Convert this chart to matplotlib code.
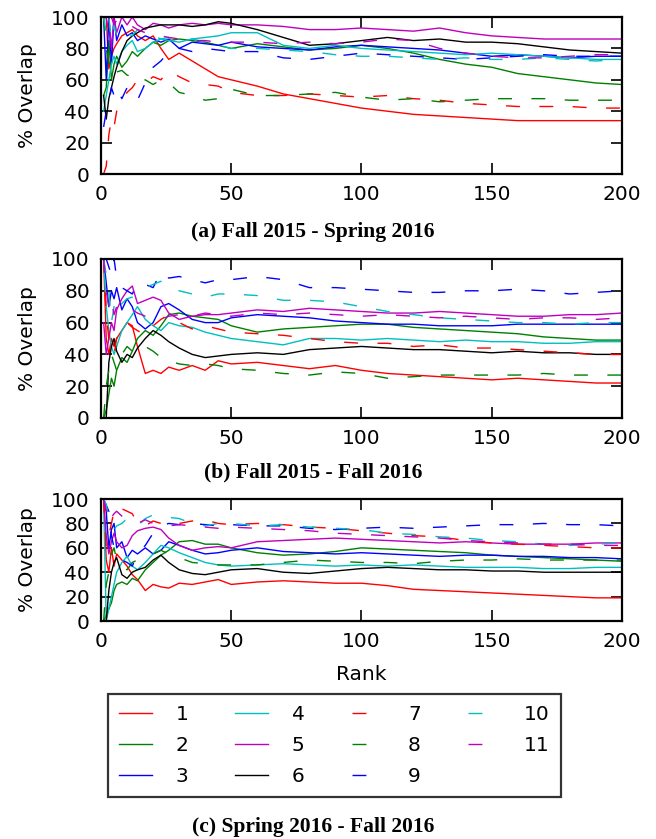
import matplotlib
matplotlib.use("Agg")
import matplotlib.pyplot as plt

ranks = [1, 2, 3, 4, 5, 6, 8, 10, 12, 14, 17, 20, 23, 26, 30, 35, 40, 45, 50,
         60, 70, 80, 90, 100, 110, 120, 130, 140, 150, 160, 170, 180, 190, 200]

labels = ["1", "2", "3", "4", "5", "6", "7", "8", "9", "10", "11"]
colors = ["r", "g", "b", "c", "m", "k", "r", "g", "b", "c", "m"]
styles = ["-"] * 6 + ["--"] * 5

# (a) Fall 2015 - Spring 2016
a1 = [100, 100, 67, 75, 80, 83, 88, 90, 92, 88, 85, 88, 80, 73, 77, 72, 67, 62, 60,
      56, 51, 48, 45, 42, 40, 38, 37, 36, 35, 34, 34, 34, 34, 34]
a2 = [50, 55, 85, 60, 70, 75, 68, 72, 78, 75, 80, 84, 82, 85, 86, 85, 84, 82, 80,
      83, 81, 79, 80, 82, 80, 77, 73, 70, 68, 64, 62, 60, 58, 57]
a3 = [100, 60, 100, 70, 100, 85, 95, 88, 90, 85, 88, 86, 84, 86, 80, 84, 83, 82, 84,
      81, 80, 79, 81, 82, 81, 80, 79, 77, 75, 76, 75, 74, 75, 75]
a4 = [40, 50, 60, 70, 75, 70, 78, 82, 85, 78, 80, 84, 86, 85, 84, 86, 87, 88, 90,
      90, 82, 80, 82, 80, 79, 78, 77, 76, 77, 76, 75, 74, 73, 73]
a5 = [100, 100, 100, 80, 100, 90, 100, 95, 100, 95, 92, 96, 95, 93, 95, 96, 95, 96, 95,
      95, 94, 92, 92, 93, 92, 91, 93, 90, 88, 87, 86, 86, 86, 86]
a6 = [50, 35, 48, 55, 62, 68, 78, 85, 88, 90, 93, 94, 95, 95, 95, 94, 95, 97, 96,
      92, 87, 82, 83, 85, 87, 85, 86, 84, 84, 83, 81, 79, 78, 77]
a7 = [0, 5, 25, 35, 30, 40, 45, 52, 55, 60, 58, 62, 60, 66, 62, 58, 57, 56, 52,
      50, 50, 51, 50, 49, 50, 48, 47, 45, 44, 43, 43, 43, 42, 42]
a8 = [100, 80, 70, 65, 62, 65, 66, 63, 62, 58, 60, 57, 60, 58, 52, 50, 47, 48, 54,
      50, 50, 51, 52, 49, 47, 48, 46, 47, 48, 48, 48, 47, 47, 47]
a9 = [30, 40, 45, 55, 50, 55, 48, 55, 50, 47, 58, 68, 72, 78, 80, 78, 80, 79, 78,
      78, 74, 73, 75, 77, 76, 75, 74, 73, 74, 75, 76, 75, 75, 75]
a10 = [100, 90, 100, 85, 95, 88, 92, 90, 88, 92, 90, 88, 86, 87, 85, 86, 84, 82, 80,
       80, 79, 78, 76, 75, 75, 74, 73, 74, 73, 73, 74, 73, 72, 73]
a11 = [100, 100, 90, 100, 95, 98, 95, 93, 94, 92, 90, 89, 88, 87, 86, 85, 85, 84, 84,
       84, 83, 84, 83, 84, 86, 85, 80, 77, 75, 74, 74, 75, 76, 76]

# (b) Fall 2015 - Fall 2016
b1 = [100, 50, 40, 50, 45, 50, 55, 60, 58, 45, 28, 30, 28, 32, 30, 33, 30, 36, 34,
      35, 33, 31, 33, 30, 28, 27, 26, 25, 24, 25, 24, 23, 22, 22]
b2 = [0, 5, 15, 25, 20, 30, 38, 35, 42, 50, 55, 52, 58, 65, 66, 64, 63, 62, 58,
      54, 56, 57, 58, 59, 59, 57, 56, 55, 54, 53, 51, 50, 49, 49]
b3 = [100, 85, 70, 80, 75, 82, 68, 75, 70, 60, 56, 60, 70, 72, 68, 62, 60, 60, 63,
      65, 64, 63, 61, 60, 59, 59, 58, 58, 58, 59, 59, 59, 59, 59]
b4 = [100, 70, 55, 45, 40, 45, 55, 60, 65, 70, 62, 58, 55, 60, 58, 57, 54, 52, 50,
      48, 46, 50, 50, 49, 50, 49, 48, 49, 48, 48, 47, 47, 48, 48]
b5 = [60, 40, 50, 60, 55, 68, 75, 80, 83, 72, 74, 76, 74, 66, 62, 64, 65, 65, 66,
      68, 67, 69, 68, 67, 66, 66, 67, 66, 65, 64, 64, 65, 65, 66]
b6 = [0, 0, 35, 45, 50, 42, 35, 40, 38, 44, 50, 55, 52, 48, 44, 40, 38, 39, 40,
      41, 40, 43, 44, 45, 44, 43, 43, 42, 41, 42, 41, 41, 40, 40]
b7 = [100, 65, 50, 45, 40, 50, 55, 60, 57, 55, 52, 58, 62, 65, 60, 56, 58, 56, 54,
      53, 52, 50, 48, 47, 47, 45, 46, 44, 44, 43, 42, 41, 40, 40]
b8 = [0, 20, 30, 40, 35, 30, 40, 45, 42, 40, 45, 42, 38, 36, 34, 33, 34, 33, 31,
      30, 28, 27, 29, 28, 25, 26, 27, 27, 27, 27, 28, 27, 27, 27]
b9 = [100, 100, 95, 90, 100, 88, 82, 80, 78, 85, 84, 82, 92, 88, 89, 87, 85, 87, 87,
      89, 87, 82, 82, 81, 80, 79, 79, 80, 80, 81, 80, 78, 79, 80]
b10 = [100, 90, 80, 60, 70, 65, 72, 75, 76, 78, 82, 84, 86, 82, 80, 78, 76, 78, 78,
       77, 74, 74, 73, 70, 67, 65, 63, 62, 61, 60, 60, 59, 60, 60]
b11 = [100, 80, 70, 75, 65, 70, 72, 70, 68, 66, 64, 63, 62, 64, 65, 64, 66, 65, 64,
       66, 65, 66, 65, 64, 65, 64, 63, 64, 63, 62, 63, 63, 62, 63]

# (c) Spring 2016 - Fall 2016
c1 = [100, 50, 40, 60, 45, 55, 50, 45, 38, 34, 25, 30, 28, 27, 31, 30, 32, 34, 30,
      32, 33, 32, 31, 31, 29, 26, 25, 24, 23, 22, 21, 20, 19, 19]
c2 = [0, 5, 10, 15, 25, 30, 32, 30, 35, 33, 42, 48, 54, 58, 65, 66, 63, 63, 60,
      56, 54, 55, 57, 60, 59, 58, 57, 56, 54, 53, 52, 51, 50, 49]
c3 = [100, 90, 60, 75, 80, 60, 65, 52, 58, 55, 60, 55, 58, 65, 62, 58, 55, 56, 58,
      60, 57, 56, 55, 56, 55, 54, 53, 54, 54, 53, 53, 52, 52, 51]
c4 = [100, 0, 10, 20, 30, 40, 48, 53, 45, 42, 48, 55, 62, 60, 56, 52, 48, 46, 45,
      46, 47, 46, 45, 46, 45, 46, 45, 44, 44, 44, 43, 43, 44, 44]
c5 = [100, 70, 55, 65, 72, 65, 60, 62, 70, 74, 76, 77, 75, 68, 62, 58, 60, 61, 60,
      65, 66, 67, 68, 67, 66, 65, 64, 65, 64, 63, 63, 63, 64, 64]
c6 = [0, 0, 25, 40, 48, 52, 38, 35, 40, 42, 44, 50, 54, 48, 42, 39, 38, 40, 42,
      43, 40, 39, 41, 43, 44, 43, 42, 42, 41, 41, 40, 40, 40, 40]
c7 = [100, 60, 70, 80, 90, 95, 92, 90, 88, 80, 78, 82, 80, 78, 80, 82, 83, 80, 79,
      80, 79, 77, 76, 74, 72, 70, 69, 66, 64, 63, 62, 61, 60, 60]
c8 = [0, 30, 40, 55, 60, 50, 45, 42, 48, 50, 52, 55, 58, 55, 52, 48, 47, 46, 46,
      46, 48, 50, 49, 48, 48, 47, 49, 50, 50, 51, 50, 50, 50, 50]
c9 = [100, 95, 90, 70, 60, 55, 50, 48, 45, 55, 62, 72, 78, 80, 79, 80, 79, 78, 79,
      78, 78, 76, 75, 76, 77, 76, 77, 78, 79, 79, 80, 79, 79, 78]
c10 = [100, 95, 85, 80, 75, 78, 80, 84, 80, 78, 84, 87, 86, 85, 84, 80, 78, 80, 80,
       78, 79, 77, 76, 75, 72, 71, 69, 68, 66, 65, 63, 62, 63, 64]
c11 = [100, 90, 95, 85, 88, 90, 86, 84, 82, 80, 83, 80, 79, 78, 79, 78, 77, 76, 77,
       76, 75, 74, 72, 71, 70, 69, 68, 66, 65, 64, 63, 63, 62, 62]

panels = [
    ([a1, a2, a3, a4, a5, a6, a7, a8, a9, a10, a11], "(a) Fall 2015 - Spring 2016"),
    ([b1, b2, b3, b4, b5, b6, b7, b8, b9, b10, b11], "(b) Fall 2015 - Fall 2016"),
    ([c1, c2, c3, c4, c5, c6, c7, c8, c9, c10, c11], "(c) Spring 2016 - Fall 2016"),
]

plt.rcParams["font.family"] = "DejaVu Sans"
plt.rcParams["font.size"] = 14.5
plt.rcParams["axes.linewidth"] = 1.6
plt.rcParams["xtick.direction"] = "in"
plt.rcParams["ytick.direction"] = "in"
plt.rcParams["xtick.top"] = True
plt.rcParams["ytick.right"] = True

fig = plt.figure(figsize=(6.56, 8.39), dpi=100)

# axes boxes in figure fractions (left, bottom, width, height)
boxes = [
    (0.154, 0.7926, 0.794, 0.1871),
    (0.154, 0.5018, 0.794, 0.1895),
    (0.154, 0.2598, 0.794, 0.1454),
]
caption_y = [0.711, 0.425, 0.002]

handles = []
for i, (series, caption) in enumerate(panels):
    ax = fig.add_axes(boxes[i])
    for vals, lab, col, ls in zip(series, labels, colors, styles):
        if ls == "--":
            line, = ax.plot(ranks, vals, color=col, lw=1.0, linestyle=(0, (10, 14)), label=lab)
        else:
            line, = ax.plot(ranks, vals, color=col, lw=1.0, label=lab)
        if i == 0:
            handles.append(line)
    ax.set_xlim(0, 200)
    ax.set_ylim(0, 100)
    ax.set_xticks([0, 50, 100, 150, 200])
    ax.set_yticks([0, 20, 40, 60, 80, 100])
    ax.tick_params(length=8, width=1.2, labelsize=14.5, pad=8)
    ax.set_ylabel("% Overlap", fontsize=14.5, labelpad=10)
    if i == 2:
        ax.set_xlabel("Rank", fontsize=14.5, labelpad=10)
    fig.text(0.477, caption_y[i], caption, ha="center", va="bottom",
             fontsize=15.5, fontweight="bold", family="Liberation Serif")

leg = fig.legend(handles=handles, loc="upper left", ncol=4, mode="expand",
                 bbox_to_anchor=(0.165, 0.051, 0.69, 0.122),
                 bbox_transform=fig.transFigure, fontsize=14.5, frameon=True,
                 fancybox=False, handlelength=1.6, handletextpad=1.2,
                 labelspacing=0.6, borderpad=0.55, borderaxespad=0)
leg.get_frame().set_edgecolor("black")
leg.get_frame().set_linewidth(1.6)

fig.savefig("out.png", dpi=100)
